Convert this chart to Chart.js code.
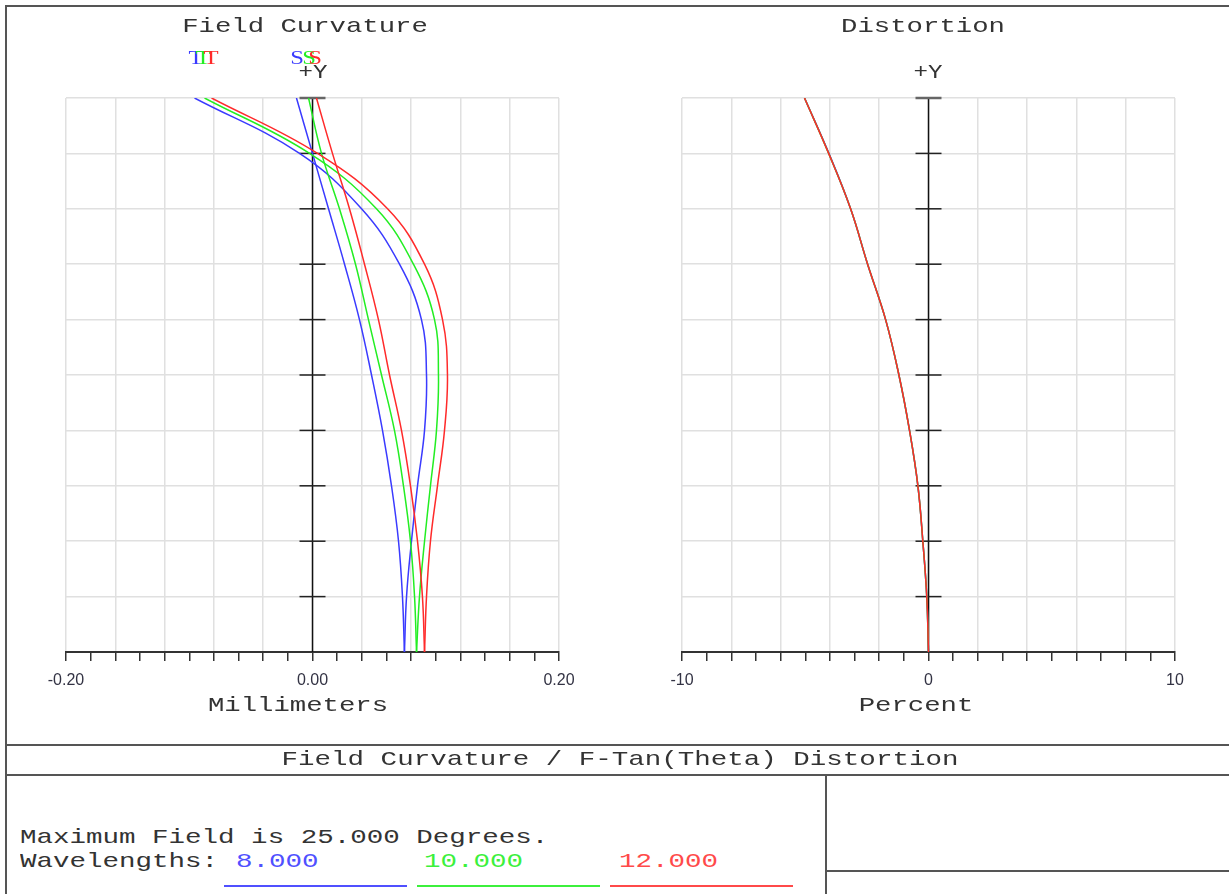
<!DOCTYPE html>
<html>
<head>
<meta charset="utf-8">
<script src="https://cdn.jsdelivr.net/npm/chart.js@4"></script>
<style>
  html,body{margin:0;padding:0;background:#fff;}
  body{width:1229px;height:894px;position:relative;overflow:hidden;font-family:"Liberation Mono",monospace;}
  canvas{position:absolute;top:0;}
  .ln{position:absolute;background:#555;}
  .txt{position:absolute;font:21px "Liberation Mono",monospace;color:#333;white-space:pre;transform:scaleX(1.31);transform-origin:left center;line-height:24px;}
</style>
</head>
<body>
<canvas id="fcChart" width="614" height="745" style="left:0"></canvas>
<canvas id="distChart" width="615" height="745" style="left:614px"></canvas>

<div class="ln" style="left:5px;top:5px;width:1224px;height:2px"></div>
<div class="ln" style="left:5px;top:5px;width:2px;height:889px"></div>
<div class="ln" style="left:5px;top:744px;width:1224px;height:2px"></div>
<div class="ln" style="left:5px;top:774px;width:1224px;height:2px"></div>
<div class="ln" style="left:825px;top:775px;width:2px;height:119px"></div>
<div class="ln" style="left:825px;top:870px;width:404px;height:2px"></div>

<div class="txt" style="left:0;width:1240px;text-align:center;top:748px;transform-origin:620px center">Field Curvature / F-Tan(Theta) Distortion</div>
<div class="txt" style="left:20px;top:826px">Maximum Field is 25.000 Degrees.</div>
<div class="txt" style="left:20px;top:850px">Wavelengths:</div>
<div id="wl" ></div>

<script>
// field angle (degrees) for every sample, bottom of plot to top
const fieldDeg = [0, 2.5, 5, 7.5, 10, 12.5, 15, 17.5, 20, 22.5, 25];

// field curvature, millimeters (T = tangential, S = sagittal)
const blueT  = [0.0746, 0.0763, 0.0803, 0.0852, 0.0909, 0.0925, 0.0884, 0.0706, 0.0398, -0.0105, -0.0957];
const greenT = [0.0844, 0.0868, 0.0909, 0.0957, 0.1006, 0.1022, 0.0990, 0.0819, 0.0519, -0.0024, -0.0876];
const redT   = [0.0909, 0.0925, 0.0957, 0.1014, 0.1071, 0.1095, 0.1055, 0.0909, 0.0609, 0.0041, -0.0819];
const blueS  = [0.0746, 0.0730, 0.0698, 0.0641, 0.0568, 0.0479, 0.0381, 0.0260, 0.0130, 0.0000, -0.0130];
const greenS = [0.0844, 0.0828, 0.0795, 0.0738, 0.0665, 0.0560, 0.0454, 0.0349, 0.0219, 0.0073, -0.0032];
const redS   = [0.0909, 0.0892, 0.0852, 0.0795, 0.0722, 0.0625, 0.0535, 0.0422, 0.0300, 0.0162, 0.0032];

// f-tan(theta) distortion, percent (the three wavelengths overlap)
const distBlue  = [0, -0.07, -0.23, -0.43, -0.77, -1.20, -1.74, -2.47, -3.16, -4.04, -5.03];
const distGreen = [0, -0.07, -0.23, -0.43, -0.77, -1.20, -1.74, -2.47, -3.16, -4.05, -5.03];
const distRed   = [0, -0.07, -0.23, -0.43, -0.77, -1.20, -1.74, -2.47, -3.16, -4.05, -5.03];

const wavelengths = ["8.000", "10.000", "12.000"];
const mmTickLabels  = ["-0.20", "0.00", "0.20"];
const pctTickLabels = ["-10", "0", "10"];

const C = { blue:"#3a3aff", green:"#22ee22", red:"#ff2a2a", grid:"#e0e0e0", axis:"#333", text:"#333" };
const wlColors = ["#5050ff", "#3cf03c", "#ff4a4a"];

// bottom wavelength legend
const wl = document.getElementById("wl");
[236, 424, 619].forEach((x, i) => {
  const t = document.createElement("div");
  t.className = "txt"; t.style.left = x + "px"; t.style.top = "850px"; t.style.color = wlColors[i];
  t.textContent = wavelengths[i]; wl.appendChild(t);
  const u = document.createElement("div");
  u.className = "ln"; u.style.left = (224 + i * 193) + "px"; u.style.top = "885px";
  u.style.width = "183px"; u.style.height = "2px"; u.style.background = wlColors[i];
  wl.appendChild(u);
});

function pts(xs) { return fieldDeg.map((f, i) => ({ x: xs[i], y: f })); }
function line(data, color) {
  return { data: pts(data), borderColor: color, backgroundColor: color, borderWidth: 1.5,
           showLine: true, pointRadius: 0, tension: 0.4, fill: false };
}

function wideText(ctx, text, x, y, font, sx, color) {
  ctx.save();
  ctx.font = font; ctx.fillStyle = color; ctx.textAlign = "center"; ctx.textBaseline = "middle";
  ctx.translate(x, y); ctx.scale(sx, 1); ctx.fillText(text, 0, 0);
  ctx.restore();
}

// central +Y axis with its cross ticks, and the labels round the plot
function decoPlugin(labels) {
  return {
    id: "deco",
    beforeDatasetsDraw(chart) {
      const ctx = chart.ctx, xs = chart.scales.x, ys = chart.scales.y;
      const x0 = xs.getPixelForValue(0);
      ctx.save();
      ctx.strokeStyle = "#111"; ctx.lineWidth = 1.5;
      ctx.beginPath(); ctx.moveTo(x0, ys.top); ctx.lineTo(x0, ys.bottom); ctx.stroke();
      fieldDeg.slice(1).forEach(f => {
        const y = ys.getPixelForValue(f);
        ctx.strokeStyle = f === 25 ? "#666" : "#222"; ctx.lineWidth = f === 25 ? 2.5 : 1.5;
        ctx.beginPath(); ctx.moveTo(x0 - 13, y); ctx.lineTo(x0 + 13, y); ctx.stroke();
      });
      ctx.restore();
    },
    afterDraw(chart) {
      const ctx = chart.ctx;
      labels.forEach(l => wideText(ctx, l.t, l.x, l.y, l.font || '21px "Liberation Mono"', l.sx || 1.3, l.c || C.text));
    }
  };
}

function opts(min, max, step, tickLabels, left, right) {
  return {
    responsive: false, animation: false,
    layout: { padding: { left, right, top: 98, bottom: 0 } },
    plugins: { legend: { display: false }, tooltip: { enabled: false } },
    scales: {
      x: { type: "linear", min, max,
        border: { display: true, color: C.axis, width: 2 },
        grid: { color: c => c.index % 2 === 0 ? C.grid : "rgba(0,0,0,0)", lineWidth: 1.5,
                drawTicks: true, tickLength: 9, tickColor: "#333", tickWidth: 1.5 },
        ticks: { stepSize: step, autoSkip: false, maxRotation: 0, padding: 10, color: "#333344",
                 font: { family: "Liberation Sans", size: 16 },
                 callback: (v, i) => i % 10 === 0 ? tickLabels[i / 10] : "" },
        afterFit: s => { s.height = 93; } },
      y: { type: "linear", min: 0, max: 25,
        border: { display: false },
        grid: { color: C.grid, lineWidth: 1.5, drawTicks: false },
        ticks: { display: false, stepSize: 2.5 },
        afterFit: s => { s.width = 0; } }
    }
  };
}

// Chart.js paints the first dataset on top, so red comes first
const serif = '19px "Liberation Serif"';
new Chart(document.getElementById("fcChart"), {
  type: "scatter",
  data: { datasets: [line(redT, C.red), line(redS, C.red), line(greenT, C.green), line(greenS, C.green),
                     line(blueT, C.blue), line(blueS, C.blue)] },
  options: opts(-0.2, 0.2, 0.02, mmTickLabels, 66, 55),
  plugins: [decoPlugin([
    { t: "Field Curvature", x: 305, y: 26 },
    { t: "Millimeters", x: 298, y: 705 },
    { t: "+Y", x: 313, y: 72, sx: 1.15 },
    { t: "T", x: 196, y: 59, font: serif, sx: 1.3, c: C.blue },
    { t: "T", x: 203, y: 59, font: serif, sx: 1.3, c: C.green },
    { t: "T", x: 211, y: 59, font: serif, sx: 1.3, c: C.red },
    { t: "S", x: 297, y: 59, font: serif, sx: 1.3, c: C.blue },
    { t: "S", x: 309, y: 59, font: serif, sx: 1.3, c: C.green },
    { t: "S", x: 315, y: 59, font: serif, sx: 1.3, c: C.red }
  ])]
});

new Chart(document.getElementById("distChart"), {
  type: "scatter",
  data: { datasets: [line(distRed, C.red), line(distGreen, C.green), line(distBlue, C.blue)] },
  options: opts(-10, 10, 1, pctTickLabels, 68, 54),
  plugins: [decoPlugin([
    { t: "Distortion", x: 309, y: 26 },
    { t: "Percent", x: 302, y: 705 },
    { t: "+Y", x: 314, y: 72, sx: 1.15 }
  ])]
});
</script>
</body>
</html>
